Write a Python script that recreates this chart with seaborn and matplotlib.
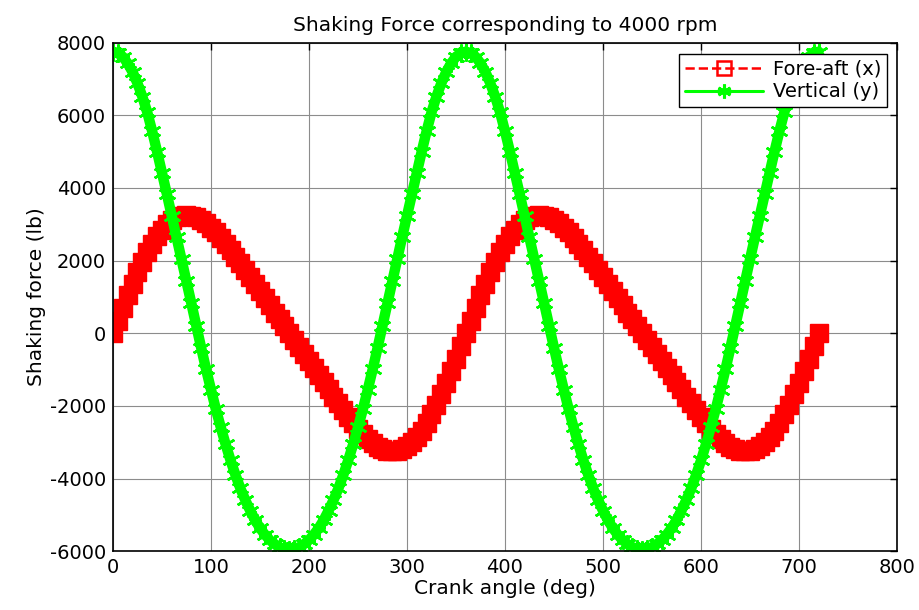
import matplotlib
matplotlib.use('Agg')
import matplotlib.pyplot as plt
from matplotlib.lines import Line2D
import seaborn as sns

# Crank angle, 5 deg steps over two revolutions
crank_angle = list(range(0, 721, 5))

# Shaking force (lb)
fore_aft = [
    0, 350, 700, 1040, 1370, 1680, 1970, 2230, 2470, 2680, 2850, 3000, 3110, 3190, 3230, 3250,
    3230, 3190, 3120, 3030, 2910, 2780, 2630, 2470, 2300, 2110, 1930, 1740, 1540, 1350, 1150,
    960, 770, 570, 380, 190, 0, -190, -380, -570, -770, -960, -1150, -1350, -1540, -1740, -1930,
    -2110, -2300, -2470, -2630, -2780, -2910, -3030, -3120, -3190, -3230, -3250, -3230, -3190,
    -3110, -3000, -2850, -2680, -2470, -2230, -1970, -1680, -1370, -1040, -700, -350,
    0, 350, 700, 1040, 1370, 1680, 1970, 2230, 2470, 2680, 2850, 3000, 3110, 3190, 3230, 3250,
    3230, 3190, 3120, 3030, 2910, 2780, 2630, 2470, 2300, 2110, 1930, 1740, 1540, 1350, 1150,
    960, 770, 570, 380, 190, 0, -190, -380, -570, -770, -960, -1150, -1350, -1540, -1740, -1930,
    -2110, -2300, -2470, -2630, -2780, -2910, -3030, -3120, -3190, -3230, -3250, -3230, -3190,
    -3110, -3000, -2850, -2680, -2470, -2230, -1970, -1680, -1370, -1040, -700, -350, 0,
]
vertical = [
    7750, 7710, 7610, 7430, 7190, 6880, 6510, 6080, 5560, 5000, 4420, 3830, 3230, 2640, 2040,
    1430, 820, 210, -400, -990, -1550, -2090, -2590, -3060, -3500, -3900, -4270, -4590, -4880,
    -5140, -5360, -5540, -5690, -5800, -5890, -5930, -5950, -5930, -5890, -5800, -5690, -5540,
    -5360, -5140, -4880, -4590, -4270, -3900, -3500, -3060, -2590, -2090, -1550, -990, -400,
    210, 820, 1430, 2040, 2640, 3230, 3830, 4420, 5000, 5560, 6080, 6510, 6880, 7190, 7430,
    7610, 7710,
    7750, 7710, 7610, 7430, 7190, 6880, 6510, 6080, 5560, 5000, 4420, 3830, 3230, 2640, 2040,
    1430, 820, 210, -400, -990, -1550, -2090, -2590, -3060, -3500, -3900, -4270, -4590, -4880,
    -5140, -5360, -5540, -5690, -5800, -5890, -5930, -5950, -5930, -5890, -5800, -5690, -5540,
    -5360, -5140, -4880, -4590, -4270, -3900, -3500, -3060, -2590, -2090, -1550, -990, -400,
    210, 820, 1430, 2040, 2640, 3230, 3830, 4420, 5000, 5560, 6080, 6510, 6880, 7190, 7430,
    7610, 7710, 7750,
]

x_ticks = list(range(0, 801, 100))
y_ticks = list(range(-6000, 8001, 2000))

sns.set_theme(style="whitegrid")
plt.rcParams['font.family'] = ['DejaVu Sans']
plt.rcParams['text.color'] = 'black'
plt.rcParams['axes.labelcolor'] = 'black'
plt.rcParams['axes.unicode_minus'] = False

fig = plt.figure(figsize=(9.2, 6.1), dpi=100)
ax = fig.add_axes([0.1228, 0.0962, 0.8522, 0.8340])

# Fore-aft: red dashed line with square markers (dense enough to form a band)
sns.lineplot(x=crank_angle, y=fore_aft, ax=ax, color='#ff0000', linestyle='--', linewidth=6,
             marker='s', markersize=12.5, markerfacecolor='#ff0000', markeredgecolor='#ff0000',
             markeredgewidth=1.0, sort=False, legend=False)
# Vertical: green line with asterisk markers
sns.lineplot(x=crank_angle, y=vertical, ax=ax, color='#00ff00', linestyle='-', linewidth=7.5,
             marker=(6, 2, 0), markersize=13, markeredgecolor='#00ff00', markeredgewidth=1.8,
             sort=False, legend=False)

ax.set_xlim(0, 800)
ax.set_ylim(-6000, 8000)
ax.set_xticks(x_ticks)
ax.set_yticks(y_ticks)
ax.grid(True, color='#8c8c8c', linewidth=0.8, linestyle='-')
ax.set_facecolor('white')
for side in ax.spines.values():
    side.set_color('black')
    side.set_linewidth(1.2)
ax.tick_params(direction='in', length=5, width=1, top=True, right=True,
               labelsize=14, colors='black', pad=5)

ax.set_title('Shaking Force corresponding to 4000 rpm', fontsize=14.5, pad=8, color='black')
ax.set_xlabel('Crank angle (deg)', fontsize=14.5, labelpad=1)
ax.set_ylabel('Shaking force (lb)', fontsize=14.5, labelpad=3)

handles = [
    Line2D([], [], color='#ff0000', linestyle='--', linewidth=1.8, marker='s', markersize=10,
           markerfacecolor='none', markeredgecolor='#ff0000', markeredgewidth=1.8),
    Line2D([], [], color='#00ff00', linestyle='-', linewidth=2.2, marker=(6, 2, 0), markersize=10,
           markeredgecolor='#00ff00', markeredgewidth=2.2),
]
leg = ax.legend(handles, ['Fore-aft (x)', 'Vertical (y)'], loc='upper right',
                bbox_to_anchor=(0.987, 0.978), borderaxespad=0, fontsize=14,
                handlelength=4, frameon=True, fancybox=False, framealpha=1,
                edgecolor='black', borderpad=0.3, labelspacing=0.2, handletextpad=0.5)
leg.get_frame().set_linewidth(1.0)

fig.savefig('out.png', dpi=100)
